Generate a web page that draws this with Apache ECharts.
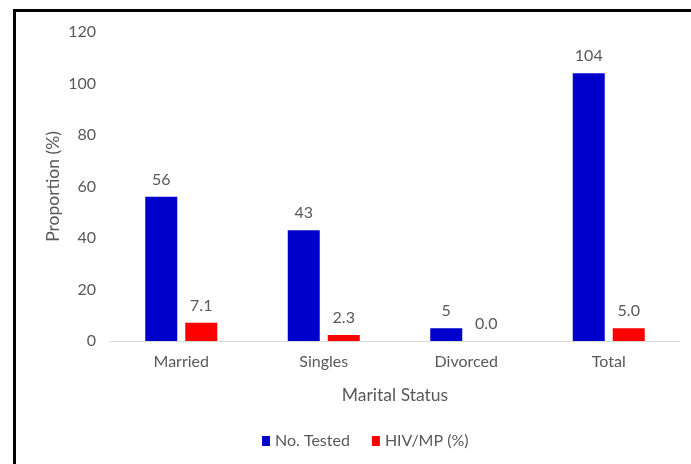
<!DOCTYPE html>
<html>
<head>
<meta charset="utf-8">
<script src="https://cdn.jsdelivr.net/npm/echarts@6/dist/echarts.min.js"></script>
<style>
  html, body { margin: 0; padding: 0; background: #fff; }
  #chart { width: 691px; height: 464px; }
</style>
</head>
<body>
<div id="chart"></div>
<script>
// Marital status groups and the two measured series
const categories = ['Married', 'Singles', 'Divorced', 'Total'];
const noTested = [56, 43, 5, 104];
const hivMp = [7.1, 2.3, 0.0, 5.0];
const yTicks = { min: 0, max: 120, interval: 20 };

const FONT = 'Lato, "Open Sans", sans-serif';
const TEXT = '#595959';

const chart = echarts.init(document.getElementById('chart'));
chart.setOption({
  animation: false,
  backgroundColor: '#ffffff',
  textStyle: { fontFamily: FONT },
  graphic: [
    {
      type: 'polyline',
      shape: { points: [[14.5, 470], [14.5, 10.5], [700, 10.5]] },
      style: { stroke: '#000', lineWidth: 3, fill: null }
    }
  ],
  grid: { left: 110, right: 11, top: 32, bottom: 123 },
  legend: {
    bottom: 10,
    left: 257,
    itemWidth: 8,
    itemHeight: 10,
    itemGap: 22,
    icon: 'rect',
    textStyle: { color: TEXT, fontSize: 16, fontFamily: FONT },
    data: ['No. Tested', 'HIV/MP (%)']
  },
  xAxis: {
    type: 'category',
    data: categories,
    name: 'Marital Status',
    nameLocation: 'middle',
    nameGap: 45,
    nameTextStyle: { color: TEXT, fontSize: 17.5, fontFamily: FONT },
    axisLine: { lineStyle: { color: '#d9d9d9', width: 1 } },
    axisTick: { show: false },
    axisLabel: { color: TEXT, fontSize: 16, margin: 13, fontFamily: FONT }
  },
  yAxis: {
    type: 'value',
    min: yTicks.min,
    max: yTicks.max,
    interval: yTicks.interval,
    name: 'Proportion (%)',
    nameLocation: 'middle',
    nameGap: 48,
    nameMoveOverlap: false,
    nameRotate: 90,
    nameTextStyle: { color: TEXT, fontSize: 17.5, fontFamily: FONT },
    axisLine: { show: false },
    axisTick: { show: false },
    splitLine: { show: false },
    axisLabel: { color: TEXT, fontSize: 16, margin: 14, fontFamily: FONT }
  },
  series: [
    {
      name: 'No. Tested',
      type: 'bar',
      data: noTested,
      barWidth: 32,
      barGap: '25%',
      itemStyle: { color: '#0000CC' },
      label: {
        show: true,
        position: 'top',
        distance: 9,
        color: TEXT,
        fontSize: 16,
        fontFamily: FONT,
        formatter: p => String(p.value)
      }
    },
    {
      name: 'HIV/MP (%)',
      type: 'bar',
      data: hivMp,
      barWidth: 32,
      itemStyle: { color: '#FF0000' },
      label: {
        show: true,
        position: 'top',
        distance: 9,
        color: TEXT,
        fontSize: 16,
        fontFamily: FONT,
        formatter: p => p.value.toFixed(1)
      }
    }
  ]
});
</script>
</body>
</html>
